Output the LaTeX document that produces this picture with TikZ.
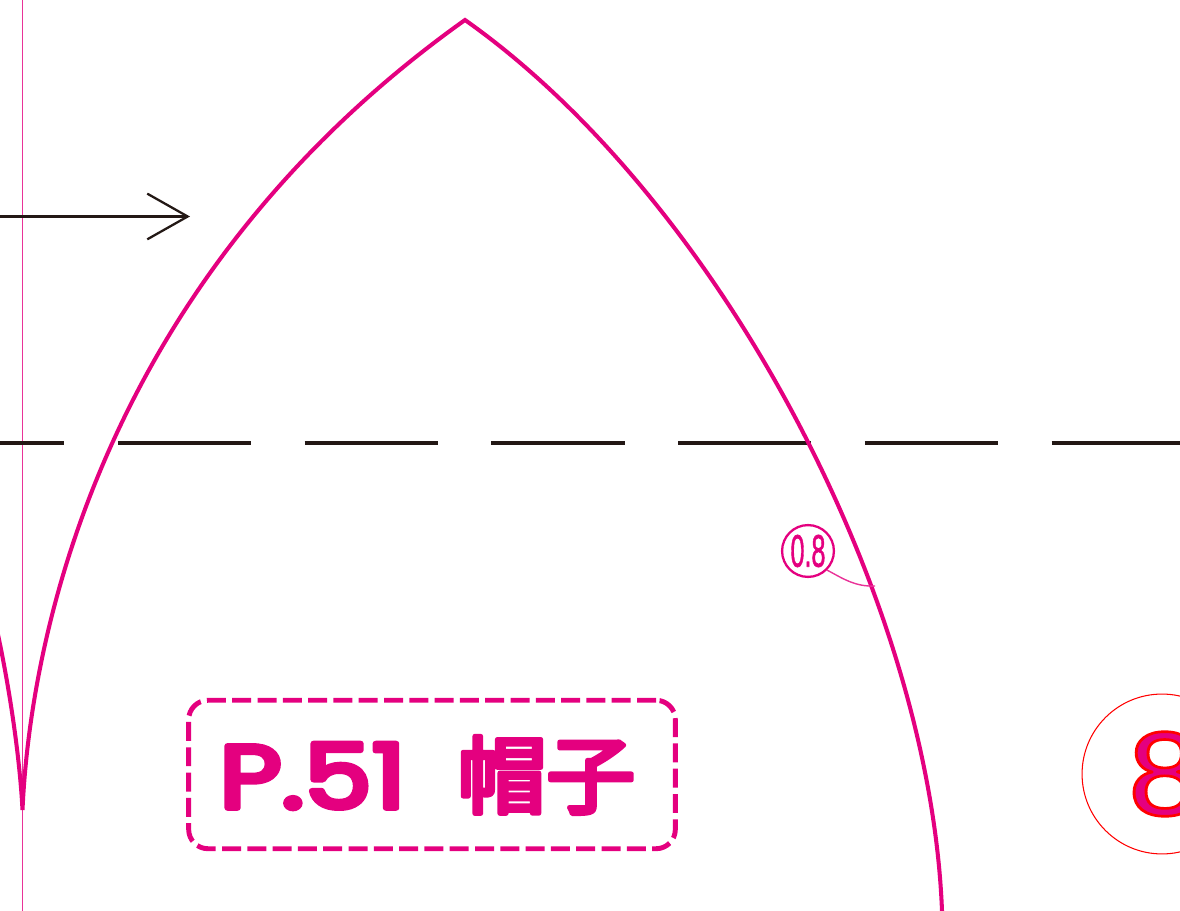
\documentclass[tikz,border=0pt]{standalone}
\usepackage{fontspec}
\usepackage{graphicx}
\setmainfont{Poppins}
\newfontfamily\cjkfont{Noto Sans CJK JP}
\newfontfamily\numfont{Liberation Sans}
\usetikzlibrary{arrows.meta}
\definecolor{patternpink}{HTML}{E4007F}
\definecolor{sewred}{HTML}{FF0000}
\definecolor{inkblack}{HTML}{231815}
\tikzset{
  cutline/.style={patternpink, line width=2.3pt},
  foldline/.style={inkblack, line width=2.4pt, dash pattern=on 75.9pt off 30.4pt},
  thinline/.style={patternpink!80, line width=0.5pt},
}
\newcommand{\roundink}[3]{\special{pdf:code q 2 Tr 1 J 1 j #1 w 0.894 0 0.498 rg #2 RG}#3\special{pdf:code Q 0 Tr}}
\begin{document}
\begin{tikzpicture}[x=0.02cm, y=-0.02cm]
    \useasboundingbox (0, 0) rectangle (1180, 911);

    \draw[thinline]
      (22.5, 0) -- (22.5, 911)
    ;

    \draw[foldline]
      (-69, 442.8) -- (1180, 442.8)
    ;

    \coordinate (apex) at (465, 20);
    \coordinate (hemleft) at (22.5, 810);
    \coordinate (hemright) at (942, 911);
    \coordinate (nextpiece) at (-3, 630);
    \coordinate (seampoint) at (875, 586);
    \coordinate (arrowstart) at (0, 216.5);
    \coordinate (arrowend) at (190, 216.5);

    \draw[cutline, line join=miter]
      (nextpiece) .. controls (10, 690) and (20, 760) .. (hemleft)
      .. controls (30, 640) and (100, 280) .. (apex)
      .. controls (720, 200) and (930, 600) .. (hemright)
    ;

    \draw[inkblack, line width=1.3pt, -{Straight Barb[length=23pt, width=26pt, line width=1.3pt]}]
      (arrowstart) -- (arrowend)
    ;

    \node[draw=patternpink, circle, line width=1.3pt, minimum size=29.5pt, inner sep=0pt, text=patternpink] (seamtag) at (808, 551)
      {\scalebox{0.55}[1]{\roundink{0.4}{0.894 0 0.498}{\numfont\fontsize{26}{26}\selectfont 0.8}}};

    \draw[thinline, line width=0.8pt]
      (seamtag.south east) .. controls (842, 578) and (855, 587) .. (seampoint)
    ;

    \node[draw=patternpink, line width=2.8pt, rounded corners=11pt, dash pattern=on 10.8pt off 3.6pt,
      minimum width=277pt, minimum height=84.5pt, inner sep=0pt] (titlebox) at (432, 774.5) {};

    \node[anchor=west, text=patternpink, inner sep=0pt] (titlepage) at (219, 776)
      {\scalebox{1.2}[1]{\roundink{3}{0.894 0 0.498}{\fontsize{51}{51}\selectfont P.51}}};

    \node[anchor=west, text=patternpink, inner sep=0pt] (titleword) at (457, 775)
      {\scalebox{1.055}[1]{\roundink{2.6}{0.894 0 0.498}{\cjkfont\fontsize{48}{48}\selectfont 帽子}}};

    \node[draw=sewred, circle, line width=0.6pt, minimum size=91pt, inner sep=0pt] (piecemark) at (1162, 774) {};

    \node[anchor=west, inner sep=0pt] (piecenumber) at (1128, 774)
      {\scalebox{1.1}[1]{\roundink{1.5}{1 0 0}{\numfont\fontsize{68}{68}\selectfont 8}}};
\end{tikzpicture}
\end{document}
